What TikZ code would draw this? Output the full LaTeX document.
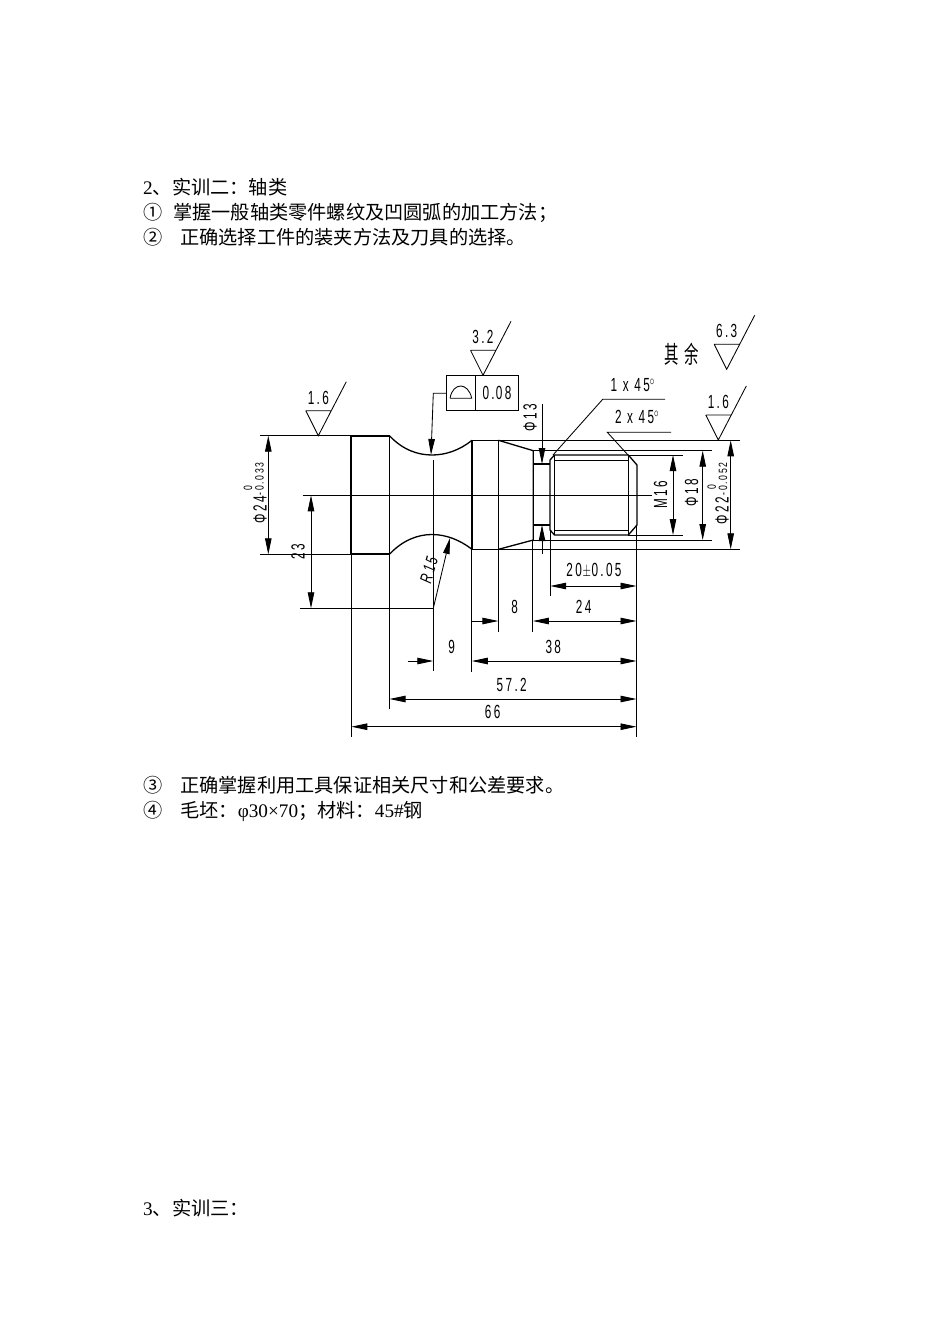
\documentclass[tikz,border=0pt]{standalone}
\usepackage{fontspec}
\setmainfont{Liberation Serif}
\newfontfamily\cjk{Noto Sans CJK SC}
\newfontfamily\dimfont[LetterSpace=20]{Liberation Sans}
\usetikzlibrary{
	arrows.meta,
	calc
}
\tikzstyle{every picture}+=[>={Stealth[length=16pt,width=6.5pt,inset=0pt]}]
\tikzset{
	line/.style={anchor=base west, inner sep=0pt, font=\fontsize{19.2}{22}\selectfont},
	outline/.style={line width=1.3pt},
	thin line/.style={line width=0.85pt},
	dimtext/.style={inner sep=0pt, font=\fontsize{19}{20}\dimfont, xscale=.62},
	dimtextv/.style={inner sep=0pt, font=\fontsize{19}{20}\dimfont, rotate=90, xscale=.62},
	toltext/.style={inner sep=0pt, font=\fontsize{12}{12}\dimfont, rotate=90, xscale=.72}
}
\begin{document}
\begin{tikzpicture}[x=1pt, y=-1pt]
	\useasboundingbox (0,0) rectangle (950,1344);

	% text lines
	\node[line] (title2) at (143,194) {2{\cjk 、实训二：轴类}};
	\node[line] (item1) at (143,219) {\cjk ①};
	\node[line] (item1text) at (173,219) {\cjk 掌握一般轴类零件螺纹及凹圆弧的加工方法；};
	\node[line] (item2) at (143,244) {\cjk ②};
	\node[line] (item2text) at (180,244) {\cjk 正确选择工件的装夹方法及刀具的选择。};
	\node[line] (item3) at (143,792) {\cjk ③};
	\node[line] (item3text) at (180,792) {\cjk 正确掌握利用工具保证相关尺寸和公差要求。};
	\node[line] (item4) at (143,817) {\cjk ④};
	\node[line] (item4text) at (180,817) {{\cjk 毛坯：}φ30×70{\cjk ；材料：}45\#{\cjk 钢}};
	\node[line] (title3) at (143,1215) {3{\cjk 、实训三：}};

	% shaft outline
	\begin{scope}[outline]
		\draw (351,436) rectangle (389.7,554);
		\draw (389.7,436) .. controls (403,450) and (418,455) .. (432,455)
			.. controls (446,455) and (460,450) .. (472,440.3);
		\draw (389.7,554) .. controls (403,540) and (418,534.5) .. (432,534.5)
			.. controls (446,534.5) and (460,540) .. (472,549.3);
		\draw (472,440.3) rectangle (498.5,549.3);
		\draw (498.5,440.3) -- (533.3,450.7) -- (533.3,540) -- (498.5,549.3);
		\draw (533.3,464) -- (550,464) (533.3,525) -- (550,525);
		\draw (550,460) -- (554.5,455) -- (628.3,455) -- (637,465) -- (637,525)
			-- (628.3,535) -- (554.5,535) -- (550,530) -- cycle;
		\draw (554.5,455) -- (554.5,535) (628.3,455) -- (628.3,535);
	\end{scope}
	\draw[thin line] (554.5,460) -- (628.3,460) (554.5,530.5) -- (628.3,530.5);

	% centre lines and extension lines
	\begin{scope}[thin line]
		\draw (302.7,495.3) -- (652,495.3);
		\draw (433.3,460) -- (433.3,670.7);
		\draw (300,608.3) -- (433.3,608.3);
		\foreach \yA/\xA/\xB in {435.7/260/351, 554.3/260/351, 440.3/498/740, 549.3/498/740,
				450.7/533/711.7, 540/533/711.7, 455/628/682.7, 535/628/682.7} {
			\draw (\xA,\yA) -- (\xB,\yA);
		}
		\foreach \xA/\yA/\yB in {351.3/554/736.7, 389.5/554/709.3, 471.8/549/671.7, 498.4/549/631.7,
				532.9/540/631.7, 550.2/530/596, 636.5/525/736.7} {
			\draw (\xA,\yA) -- (\xA,\yB);
		}
	\end{scope}

	% dimensions with the arrows inside
	\begin{scope}[thin line]
		\foreach \xA/\yA/\yB in {268.3/435.7/554.3, 311/495.3/608.3, 673/455/535, 702.7/450.7/540, 730.7/440.3/549.3} {
			\draw[<->] (\xA,\yA) -- (\xA,\yB);
		}
		\foreach \yA/\xA in {586/550.2, 699/389.5, 726.7/351.3} {
			\draw[<->] (\xA,\yA) -- (636.5,\yA);
		}
		% dimensions with the arrows outside
		\draw[->] (471.8,621) -- (498.4,621);
		\draw[<->] (532.9,621) -- (636.5,621);
		\draw[->] (407.7,661) -- (433.3,661);
		\draw[<->] (471.8,661) -- (636.5,661);
		\draw[->] (542,404) -- (542,464);
		\draw[->] (542,554) -- (542,525);
		% leaders
		\draw[->] (433.3,608.3) -- (450,538);
		\draw[->] (446,393.3) -- (433.3,393.3) -- (431,455);
		\draw (553,455) -- (602.7,399.3) -- (665,399.3);
		\draw (628,455) -- (607.3,432.3) -- (671,432.3);
	\end{scope}

	% roughness symbols
	\foreach \name/\apexX/\apexY/\val in {A/318.3/435.7/1.6, B/483/375.3/3.2, C/726.7/369.3/6.3, D/718.3/440/1.6} {
		\draw[thin line] (\apexX-12.5,\apexY-25) -- (\apexX+13,\apexY-25) (\apexX-12.5,\apexY-25) -- (\apexX,\apexY) -- (\apexX+28,\apexY-54);
		\node[dimtext] (rough\name) at (\apexX,\apexY-38) {\val};
	}
	\node[inner sep=0pt, xscale=.6, font=\fontsize{24}{24}\selectfont\cjk] (restA) at (672,354) {其};
	\node[inner sep=0pt, xscale=.6, font=\fontsize{24}{24}\selectfont\cjk] (restB) at (692,354) {余};

	% tolerance frame
	\draw[thin line] (446,375.3) rectangle (518.3,410) (475.7,375.3) -- (475.7,410);
	\draw[thin line] (450,398.3) -- (471.7,398.3) .. controls (470,390) and (465,386) .. (460.8,386)
		.. controls (456,386) and (451.5,390) .. (450,398.3);
	\node[dimtext] (frameval) at (497,393) {0.\hspace{2pt}08};

	% dimension texts
	\foreach \name/\posX/\posY/\val in {a/594/571/20\hspace{1pt}$\pm$\hspace{1pt}0.05, b/514.7/607/8, c/583.7/607/24, d/451.7/646.7/9,
			e/553.3/647/38, f/511.7/685/57.2, g/492.7/712/66, h/632.7/385/1 x 45$^\circ$, i/637/417/2 x 45$^\circ$} {
		\node[dimtext] (dim\name) at (\posX,\posY) {\val};
	}
	\foreach \name/\posX/\posY/\val in {j/298/551.7/23, k/530/418/Φ13, l/660.7/495/M16, m/691.7/493/Φ18,
			n/260/510/Φ24, o/722/511/Φ22} {
		\node[dimtextv] (dim\name) at (\posX,\posY) {\val};
	}
	\node[toltext] (tolA) at (259.5,479) {-0.033};
	\node[toltext] (tolB) at (248,488) {0};
	\node[toltext] (tolC) at (723,479) {-0.052};
	\node[toltext] (tolD) at (711.7,487) {0};

	\node[inner sep=0pt, rotate=74, font=\fontsize{17}{18}\dimfont\itshape, xscale=.7] (radius) at (429,570) {R15};
\end{tikzpicture}
\end{document}
